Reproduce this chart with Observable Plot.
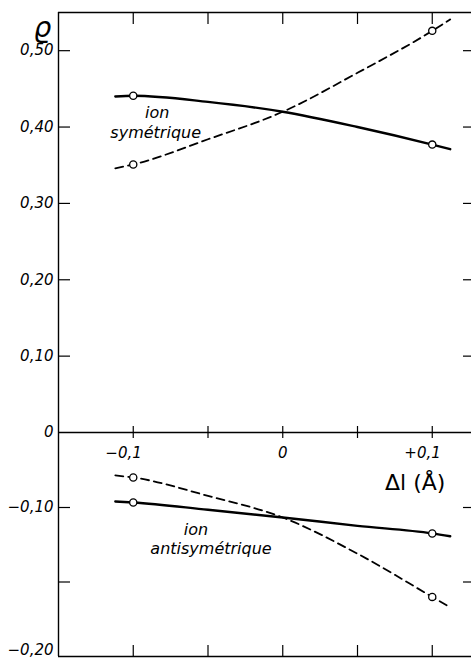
<!DOCTYPE html>
<html><head><meta charset="utf-8">
<script src="https://cdn.jsdelivr.net/npm/d3@7"></script>
<script src="https://cdn.jsdelivr.net/npm/@observablehq/plot@0.6"></script>
<style>body{margin:0;background:#fff}</style>
</head><body><div id="chart"></div>
<script>
// Δl (Å) sample positions
const dl = [-0.112, -0.1, -0.05, 0, 0.05, 0.1, 0.112];
// ion symétrique
const symSolid = [0.440, 0.441, 0.433, 0.420, 0.400, 0.377, 0.371];
const symDashed = [0.346, 0.351, 0.384, 0.420, 0.471, 0.526, 0.541];
// ion antisymétrique
const antiSolid = [-0.092, -0.0933, -0.1015, -0.1067, -0.1123, -0.1174, -0.1193];
const antiDashed = [-0.0573, -0.060, -0.0845, -0.1067, -0.131, -0.160, -0.167];
const markedDl = [-0.1, 0.1];

const xTicks = [-0.1, -0.05, 0, 0.05, 0.1];
const xTickLabels = ["−0,1", "", "0", "", "+0,1"];
const yTicks = [0.5, 0.4, 0.3, 0.2, 0.1, 0, -0.1, -0.15, -0.2];
const yTickLabels = ["0,50", "0,40", "0,30", "0,20", "0,10", "0", "−0,10", "", "−0,20"];
const labelText = ["ion", "symétrique", "ion", "antisymétrique"];
const labelDl = [-0.084, -0.085, -0.058, -0.048];
const labelRho = [0.418, 0.393, -0.1150, -0.1275];

const series = [
  {name: "sym-solid", vals: symSolid, dashed: false},
  {name: "sym-dashed", vals: symDashed, dashed: true},
  {name: "anti-solid", vals: antiSolid, dashed: false},
  {name: "anti-dashed", vals: antiDashed, dashed: true}
];
const rows = series.flatMap(s => dl.map((x, i) => ({dl: x, rho: s.vals[i], name: s.name, dashed: s.dashed})));
const pts = rows.filter(r => markedDl.includes(r.dl));
const labels = labelText.map((t, i) => ({t, x: labelDl[i], y: labelRho[i]}));
const yt = yTicks.map((v, i) => ({v, t: yTickLabels[i]}));
const xt = xTicks.map((v, i) => ({v, t: xTickLabels[i]}));

const font = "DejaVu Sans, sans-serif";
const chart = Plot.plot({
  width: 471, height: 665,
  marginLeft: 58, marginRight: 0, marginTop: 12, marginBottom: 9,
  style: {fontFamily: font, background: "#fff", color: "#000"},
  x: {domain: [-0.15, 0.12625], axis: null},
  y: {type: "linear", domain: [-0.2, -0.1, 0, 0.55], range: [656, 507, 432, 12], axis: null},
  marks: [
    // frame lines
    Plot.ruleX([-0.15], {stroke: "#000", strokeWidth: 1.4}),
    Plot.ruleY([0.55, -0.2], {stroke: "#000", strokeWidth: 1.3}),
    Plot.ruleY([0], {stroke: "#000", strokeWidth: 1.4}),
    // ticks
    Plot.tickY(yTicks.filter(v => v !== 0 && v !== -0.2), {y: d => d, stroke: "#000", strokeWidth: 1.2, insetRight: 401}),
    Plot.tickY(yTicks.filter(v => v !== 0 && v !== -0.2), {y: d => d, stroke: "#000", strokeWidth: 1.2, insetLeft: 405}),
    Plot.tickX(xTicks, {x: d => d, stroke: "#000", strokeWidth: 1.2, insetBottom: 632}),
    Plot.tickX(xTicks, {x: d => d, stroke: "#000", strokeWidth: 1.2, insetTop: 633}),
    Plot.tickX(xTicks, {x: d => d, stroke: "#000", strokeWidth: 1.2, insetTop: 414, insetBottom: 218}),
    // tick labels
    Plot.text(yt.filter(d => d.v !== -0.2), {x: -0.15, y: "v", text: "t", textAnchor: "end", dx: -5, fontSize: 15, fontStyle: "italic", fill: "#000"}),
    Plot.text(yt.filter(d => d.v === -0.2), {x: -0.15, y: "v", text: "t", textAnchor: "end", dx: -5, dy: -6, fontSize: 15, fontStyle: "italic", fill: "#000"}),
    Plot.text(xt.filter(d => d.v !== 0), {x: "v", y: 0, text: "t", textAnchor: "end", dx: 8.5, dy: 21, fontSize: 15, fontStyle: "italic", fill: "#000"}),
    Plot.text(xt.filter(d => d.v === 0), {x: "v", y: 0, text: "t", textAnchor: "middle", dy: 21, fontSize: 15, fontStyle: "italic", fill: "#000"}),
    Plot.text(["Δl (Å)"], {x: 0.1, y: 0, dx: -17, dy: 50, fontSize: 22, fill: "#000"}),
    Plot.text(["ϱ"], {frameAnchor: "top-left", dx: -25, dy: 5, fontSize: 28, fontStyle: "italic", fill: "#000"}),
    // curves
    Plot.line(rows.filter(r => !r.dashed), {x: "dl", y: "rho", z: "name", curve: "monotone-x", stroke: "#000", strokeWidth: 2.4}),
    Plot.line(rows.filter(r => r.dashed), {x: "dl", y: "rho", z: "name", curve: "monotone-x", stroke: "#000", strokeWidth: 1.8, strokeDasharray: "8,5"}),
    Plot.dot(pts, {x: "dl", y: "rho", r: 3.6, fill: "#fff", stroke: "#000", strokeWidth: 1.3}),
    // curve labels
    Plot.text(labels, {x: "x", y: "y", text: "t", fontSize: 16, fontStyle: "italic", fill: "#000"})
  ]
});
document.getElementById("chart").appendChild(chart);
</script>
</body></html>
